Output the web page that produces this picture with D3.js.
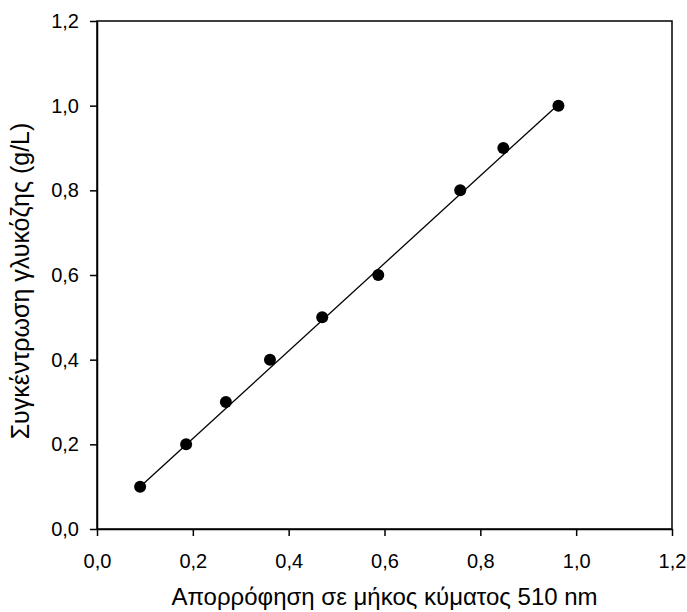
<!DOCTYPE html>
<html>
<head>
<meta charset="utf-8">
<script src="https://cdn.jsdelivr.net/npm/d3@7"></script>
<style>
  body { margin: 0; background: #fff; }
  text { font-family: "Liberation Sans", Arial, sans-serif; fill: #000; }
  .axis path, .axis line { stroke: #000; stroke-width: 1.5; }
</style>
</head>
<body>
<div id="chart"></div>
<script>
// measured points
var absorbance = [0.09, 0.186, 0.269, 0.361, 0.470, 0.587, 0.758, 0.848, 0.963];
var glucose = [0.1, 0.2, 0.3, 0.4, 0.5, 0.6, 0.8, 0.9, 1.0];

// fitted line end points
var fitX = [0.09, 0.963];
var fitY = [0.1, 1.003];

var tickValues = [0, 0.2, 0.4, 0.6, 0.8, 1.0, 1.2];

var margin = {top: 21, right: 15, bottom: 83, left: 97},
    width = 687 - margin.left - margin.right,
    height = 612 - margin.top - margin.bottom;

var svg = d3.select("#chart")
  .append("svg")
    .attr("width", 687)
    .attr("height", 612)
  .append("g")
    .attr("transform", "translate(" + margin.left + "," + margin.top + ")");

var x = d3.scaleLinear().domain([0, 1.2]).range([0, width]);
var y = d3.scaleLinear().domain([0, 1.2]).range([height, 0]);

var fmt = function(d) { return d3.format(".1f")(d).replace(".", ","); };

// frame
svg.append("rect")
  .attr("width", width)
  .attr("height", height)
  .attr("fill", "none")
  .attr("stroke", "#000")
  .attr("stroke-width", 1.5);

var xAxis = svg.append("g")
  .attr("class", "axis")
  .attr("transform", "translate(0," + height + ")")
  .call(d3.axisBottom(x).tickValues(tickValues).tickFormat(fmt).tickSize(7).tickSizeOuter(0).tickPadding(18));
xAxis.selectAll("text").style("font-size", "20px");

var yAxis = svg.append("g")
  .attr("class", "axis")
  .call(d3.axisLeft(y).tickValues(tickValues).tickFormat(fmt).tickSize(7).tickSizeOuter(0).tickPadding(11));
yAxis.selectAll("text").style("font-size", "20px");

// axis titles
svg.append("text")
  .attr("x", width / 2)
  .attr("y", height + 76)
  .attr("text-anchor", "middle")
  .style("font-size", "24px")
  .text("Απορρόφηση σε μήκος κύματος 510 nm");

svg.append("text")
  .attr("transform", "rotate(-90)")
  .attr("x", -(281 - margin.top))
  .attr("y", -68)
  .attr("text-anchor", "middle")
  .style("font-size", "25px")
  .text("Συγκέντρωση γλυκόζης (g/L)");

// regression line
svg.append("line")
  .attr("x1", x(fitX[0]))
  .attr("y1", y(fitY[0]))
  .attr("x2", x(fitX[1]))
  .attr("y2", y(fitY[1]))
  .attr("stroke", "#000")
  .attr("stroke-width", 1.3);

// points
svg.append("g")
  .selectAll("circle")
  .data(absorbance)
  .enter()
  .append("circle")
    .attr("cx", function(d) { return x(d); })
    .attr("cy", function(d, i) { return y(glucose[i]); })
    .attr("r", 6)
    .style("fill", "#000");
</script>
</body>
</html>
